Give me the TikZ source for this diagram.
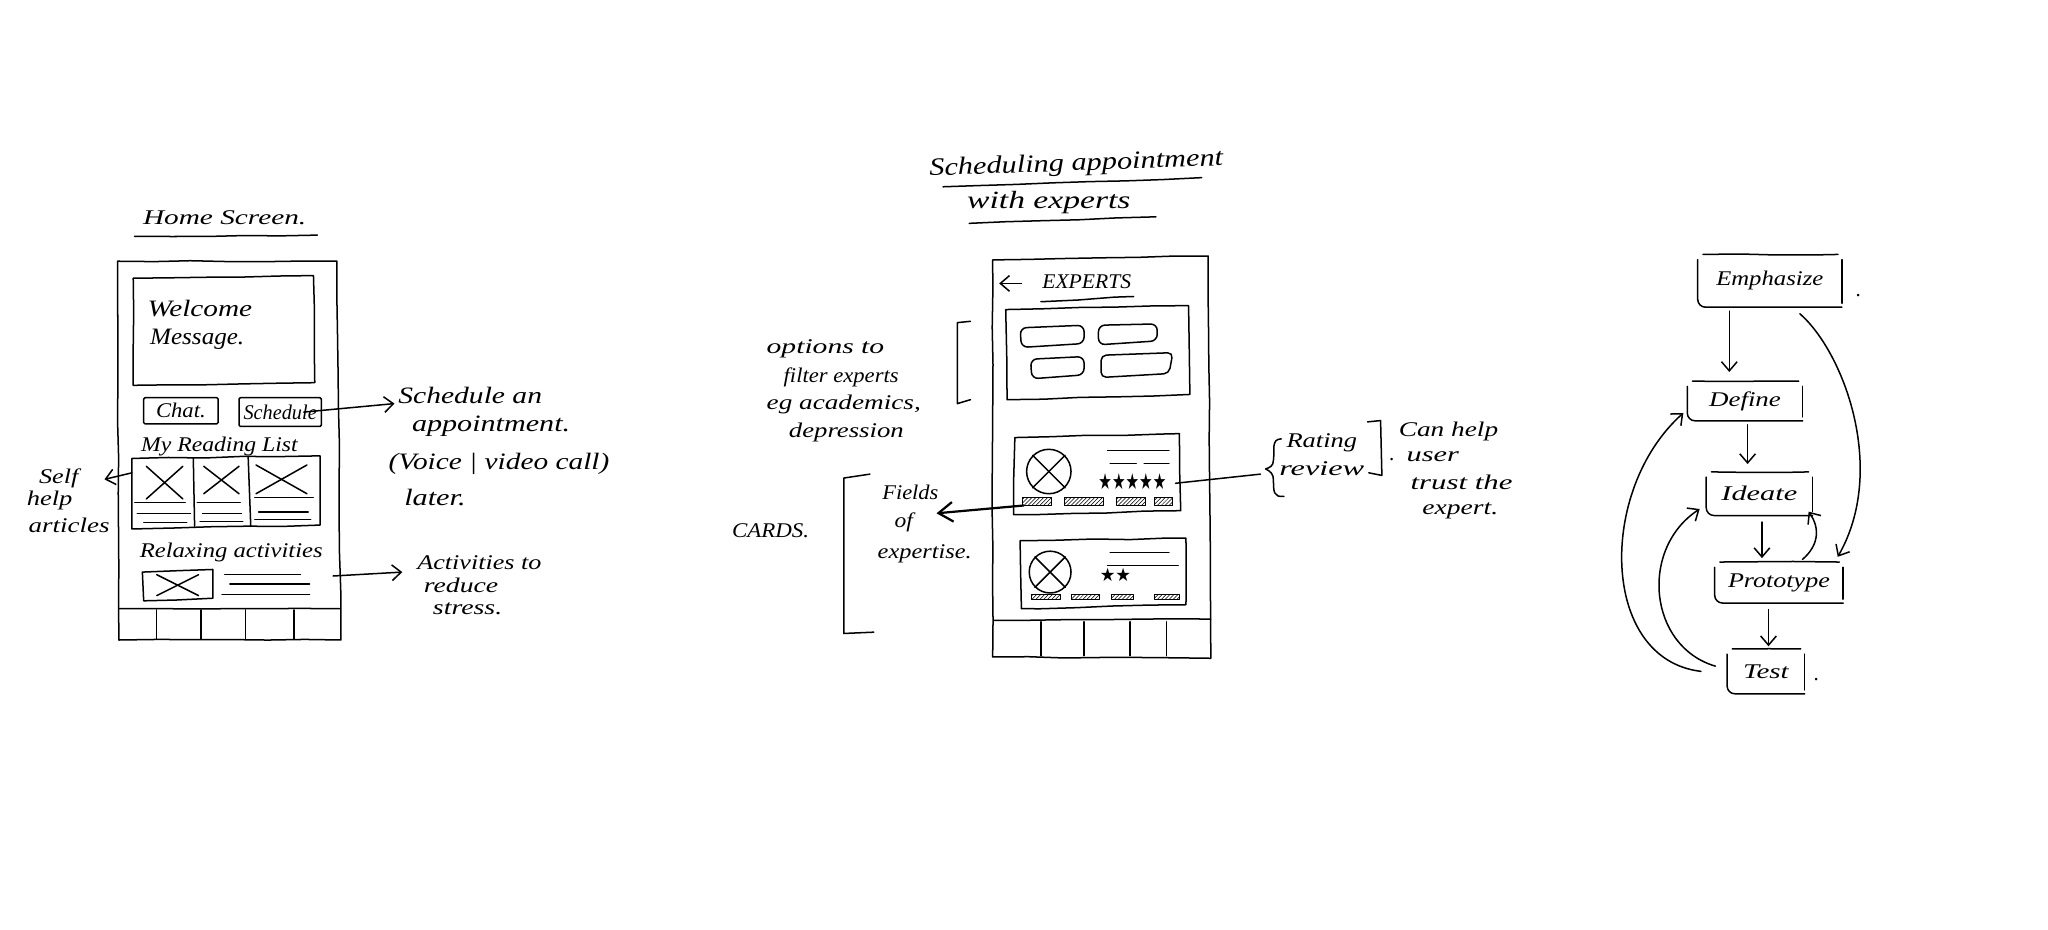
\documentclass[tikz,border=0pt]{standalone}
\usepackage{fontspec}
\usepackage{graphicx}
\setmainfont{Liberation Serif}
\newfontfamily\symfont{DejaVu Sans}
\usetikzlibrary{arrows.meta,decorations.pathmorphing,patterns}
\newcommand\hw[2]{\resizebox{#1pt}{\height}{#2}}
\tikzset{
  pen/.style={line width=1.15pt,black,line cap=round,line join=round},
  sketch/.style={pen,decorate,decoration={random steps,segment length=28pt,amplitude=0.45pt}},
  hand/.style={font=\fontsize{16}{16}\selectfont\itshape,inner sep=0pt,text=black},
  barb/.style={pen,-{Straight Barb[length=7pt,width=12pt]}},
  bigbarb/.style={line width=1.7pt,black,-{Straight Barb[length=11pt,width=15pt]}},
  chip/.style={pen,line width=.7pt,pattern=north east lines,pattern color=black},
  flowtext/.style={hand,anchor=center}
}
\newcommand\flowbox[6]{% name, x, y, w, h, text
  \node[flowtext,minimum width=#4pt,minimum height=#5pt] (#1) at (#2,#3) {#6};
  \draw[sketch] ([xshift=4pt]#1.north west) -- ([xshift=-3pt]#1.north east);
  \draw[pen,rounded corners=6pt] ([yshift=-4pt]#1.north west) -- (#1.south west) -- (#1.south east);
  \draw[sketch] ([yshift=-4pt]#1.north east) -- ([yshift=3pt]#1.south east);
}
\newcommand\cross[4]{\draw[pen] (#1,#2) -- (#3,#4); \draw[pen] (#3,#2) -- (#1,#4);}
\begin{document}
\begin{tikzpicture}[x=1pt,y=-1pt]
\pgfmathsetseed{17}
\useasboundingbox (0,0) rectangle (1568,712);
\fill[white] (0,0) rectangle (1568,712);

% ---------- Home screen
\node[hand] (t1) at (172,167) {\hw{125}{Home Screen.}};
\draw[sketch] (103,181) -- (243,180);
\draw[sketch] (90,200) -- (258,200) -- (261,490) -- (91,490) -- cycle;
\draw[sketch] (91,466) -- (260,466);
\foreach \xa in {120,154,188,225} \draw[pen] (\xa,467) -- (\xa,489);
\draw[sketch] (102,213) -- (240,211) -- (241,293) -- (102,295) -- cycle;
\node[hand,font=\fontsize{18}{18}\selectfont\itshape] (wel) at (153,236) {\hw{80}{Welcome}};
\node[hand,font=\fontsize{18}{18}\selectfont\itshape] (msg) at (151,260) {\hw{72}{Message.}};
\node[draw,pen,hand,rounded corners=1pt,minimum width=57pt,minimum height=20pt] (chat) at (138.5,314.5) {\hw{38}{Chat.}};
\node[draw,pen,hand,rounded corners=1pt,minimum width=63pt,minimum height=22pt] (sched) at (214.5,315.5) {\hw{56}{Schedule}};
\coordinate (schedend) at (302,309);
\draw[barb] ([xshift=-14pt]sched.east) -- (schedend);
\node[hand,font=\fontsize{18}{18}\selectfont\itshape] (s1) at (360,303) {\hw{110}{Schedule an}};
\node[hand,font=\fontsize{18}{18}\selectfont\itshape] (s2) at (376,326) {\hw{121}{appointment.}};
\node[hand,font=\fontsize{18}{18}\selectfont\itshape] (s3) at (382,355) {\hw{169}{(Voice | video call)}};
\node[hand,font=\fontsize{18}{18}\selectfont\itshape] (s4) at (333,381) {\hw{47}{later.}};
\node[hand] (mrl) at (168,342) {\hw{120}{My Reading List}};
\draw[sketch] (101,351) -- (245,349) -- (245,402) -- (101,405) -- cycle;
\draw[pen] (148,351) -- (149,403);
\draw[pen] (190,350) -- (192,403);
\cross{112}{357}{140}{382}
\cross{156}{357}{183}{378}
\cross{196}{356}{235}{378}
\foreach \ya/\xb/\xc in {385/103/142,393/105/146,400/110/143} \draw[pen,line width=.8pt] (\xb,\ya) -- (\xc,\ya);
\foreach \ya/\xb/\xc in {385/151/184,393/155/185,399/153/186} \draw[pen,line width=.8pt] (\xb,\ya) -- (\xc,\ya);
\foreach \ya/\xb/\xc in {381/195/240,392/198/236,398/195/238} \draw[pen,line width=.8pt] (\xb,\ya) -- (\xc,\ya);
\coordinate (selfstart) at (101,362);
\node[hand] (self1) at (45,366) {\hw{30}{Self}};
\node[hand] (self2) at (38,383) {\hw{35}{help}};
\node[hand] (self3) at (53,402) {\hw{62}{articles}};
\draw[barb] (selfstart) -- (80,367);
\node[hand] (rel) at (177,423) {\hw{140}{Relaxing activities}};
\draw[sketch] (109,438) -- (163,436) -- (163,458) -- (110,460) -- cycle;
\cross{120}{440}{152}{456}
\draw[pen] (172,440) -- (230,440);
\draw[pen] (176,447) -- (237,447);
\draw[pen] (170,455) -- (237,455);
\coordinate (actstart) at (255,441);
\coordinate (actend) at (308,438);
\draw[barb] (actstart) -- (actend);
\node[hand] (a1) at (367,431) {\hw{95}{Activities to}};
\node[hand] (a2) at (353,448) {\hw{57}{reduce}};
\node[hand] (a3) at (358,466) {\hw{53}{stress.}};

% ---------- Experts screen
\node[hand,font=\fontsize{19}{19}\selectfont\itshape,rotate=2] (t2) at (824,126) {\hw{225}{Scheduling appointment}};
\draw[sketch] (722,143) -- (920,136);
\node[hand,font=\fontsize{19}{19}\selectfont\itshape] (t3) at (803,155) {\hw{125}{with experts}};
\draw[sketch] (742,171) -- (885,166);
\draw[sketch] (760,199) -- (925,196) -- (927,504) -- (760,503) -- cycle;
\draw[sketch] (761,475) -- (927,474);
\foreach \xa in {797,830,865,893} \draw[pen] (\xa,476) -- (\xa,502);
\coordinate (backa) at (782,217);
\coordinate (backb) at (765,217);
\draw[barb] (backa) -- (backb);
\node[hand] (exp) at (832,216) {\hw{68}{EXPERTS}};
\draw[sketch] (797,231) -- (868,227);
\draw[sketch] (770,237) -- (910,234) -- (911,302) -- (771,306) -- cycle;
\draw[pen,rounded corners=5pt] (781,251) -- (830,249) -- (830,263) -- (782,266) -- cycle;
\draw[pen,rounded corners=5pt] (841,249) -- (886,248) -- (886,261) -- (841,264) -- cycle;
\draw[pen,rounded corners=5pt] (789,275) -- (830,273) -- (830,287) -- (790,290) -- cycle;
\draw[pen,rounded corners=4pt] (843,272) -- (898,270) -- (895,286) -- (843,289) -- cycle;
\draw[pen] (743,246) -- (733,247) -- (733,309) -- (743,306);
\node[hand] (o1) at (632,267) {\hw{90}{options to}};
\node[hand] (o2) at (644,289) {\hw{88}{filter experts}};
\node[hand] (o3) at (646,310) {\hw{118}{eg academics,}};
\node[hand] (o4) at (648,331) {\hw{88}{depression}};
% card 1
\draw[sketch] (777,335) -- (903,332) -- (904,391) -- (776,394) -- cycle;
\node[draw,pen,circle,minimum size=34pt,inner sep=0pt] (c1) at (803,361) {};
\draw[pen] (c1.north east) -- (c1.south west);
\draw[pen] (c1.north west) -- (c1.south east);
\draw[pen] (848,345) -- (895,345);
\draw[pen] (850,355) -- (870,355);
\draw[pen] (876,355) -- (895,355);
\node[inner sep=0pt] (st1) at (867,369) {\hw{52}{\symfont\fontsize{17}{17}\selectfont ★★★★★}};
\foreach \xa/\xc in {783/805,815/845,855/877,884/898}
  \draw[chip] (\xa,381) rectangle (\xc,387);
\coordinate (fieldend) at (717,393);
\draw[bigbarb] (784,387) -- (fieldend);
\node[hand] (f1) at (697,377) {\hw{43}{Fields}};
\node[hand] (f2) at (692,400) {\hw{14}{of}};
\node[hand] (f3) at (708,424) {\hw{72}{expertise.}};
% card 2
\draw[sketch] (781,414) -- (908,412) -- (908,463) -- (782,466) -- cycle;
\node[draw,pen,circle,minimum size=32pt,inner sep=0pt] (c2) at (804,438) {};
\draw[pen] (c2.north east) -- (c2.south west);
\draw[pen] (c2.north west) -- (c2.south east);
\draw[pen] (850,423) -- (895,423);
\draw[pen] (848,433) -- (902,433);
\node[inner sep=0pt] (st2) at (854,440) {\hw{24}{\symfont\fontsize{14}{14}\selectfont ★★}};
\foreach \xa/\xc in {790/812,820/842,851/868,884/903}
  \draw[chip] (\xa,455) rectangle (\xc,459);
\draw[pen] (666,363) -- (646,366) -- (646,485) -- (669,484);
\node[hand] (cards) at (590,406) {\hw{59}{CARDS.}};
% rating
\coordinate (rateend) at (965,363);
\draw[pen] (900,370) -- (rateend);
\draw[pen] (981,336) .. controls (973,336) and (976,345) .. (975,352) .. controls (975,357) and (972,358) .. (969,359)
   .. controls (973,361) and (975,363) .. (975,368) .. controls (975,376) and (975,381) .. (983,380);
\node[hand] (r1) at (1012,339) {\hw{54}{Rating}};
\node[hand] (r2) at (1012,359) {\hw{65}{review}};
\draw[pen] (1047,323) -- (1057,322) -- (1058,364) -- (1048,362);
\node[hand] (dot1) at (1066,352) {.};
\node[hand] (h1) at (1109,330) {\hw{76}{Can help}};
\node[hand] (h2) at (1097,350) {\hw{40}{user}};
\node[hand] (h3) at (1119,369) {\hw{78}{trust the}};
\node[hand] (h4) at (1118,391) {\hw{58}{expert.}};

% ---------- Process flow
\flowbox{emph}{1355}{215}{110}{40}{\hw{82}{Emphasize}}
\flowbox{def}{1336}{307}{88}{30}{\hw{55}{Define}}
\flowbox{ide}{1347}{378}{81}{33}{\hw{58}{Ideate}}
\flowbox{pro}{1362}{446}{98}{31}{\hw{78}{Prototype}}
\flowbox{tes}{1352}{514}{59}{34}{\hw{35}{Test}}
\node[hand] (dot2) at (1423,226) {.};
\node[hand] (dot3) at (1391,520) {.};
\draw[barb] ([xshift=-31pt,yshift=-3pt]emph.south) -- ([xshift=-12pt,yshift=7pt]def.north);
\draw[barb] ([xshift=2pt,yshift=-3pt]def.south) -- ([xshift=-9pt,yshift=6pt]ide.north);
\draw[barb] ([xshift=2pt,yshift=-5pt]ide.south) -- ([xshift=-13pt,yshift=3pt]pro.north);
\draw[barb] ([xshift=-8pt,yshift=-5pt]pro.south) -- ([xshift=2pt,yshift=2pt]tes.north);
\draw[barb] ([xshift=23pt,yshift=-5pt]emph.south) .. controls (1412,270) and (1445,360) .. ([xshift=45pt,yshift=4pt]pro.north);
\draw[barb] ([xshift=18pt,yshift=2pt]pro.north) .. controls (1392,418) and (1394,405) .. ([xshift=-3pt,yshift=3pt]ide.south east);
\draw[barb] ([xshift=-20pt]tes.west) .. controls (1225,505) and (1223,375) .. ([xshift=-3pt,yshift=6pt]def.south west);
\draw[barb] ([xshift=-9pt,yshift=4pt]tes.west) .. controls (1262,495) and (1255,420) .. ([xshift=-5pt,yshift=5pt]ide.south west);
\end{tikzpicture}
\end{document}
